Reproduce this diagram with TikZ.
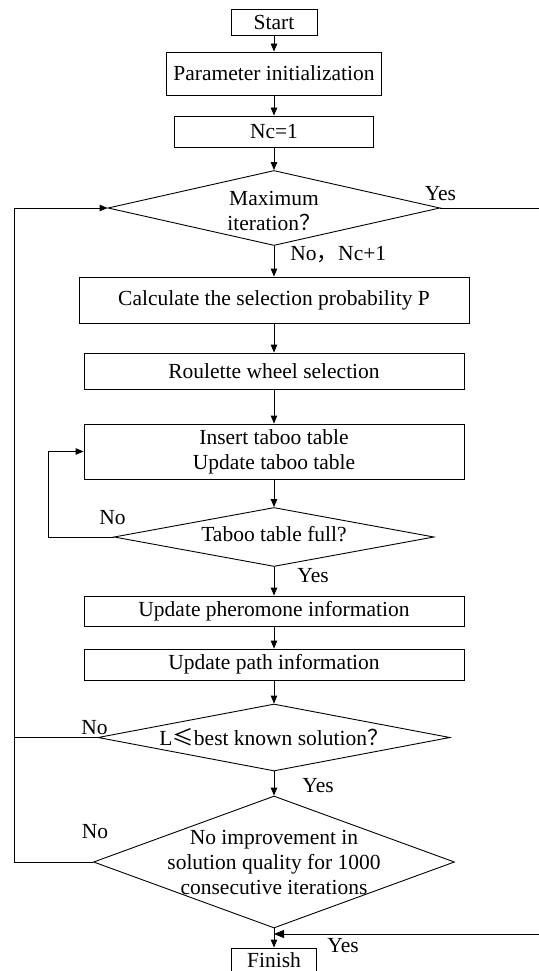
\documentclass[tikz,border=0pt]{standalone}
\usepackage{fontspec}
\setmainfont{Liberation Serif}
\newfontfamily\cjk{Noto Sans CJK SC}
\usetikzlibrary{shapes.geometric,arrows.meta}

\begin{document}
\begin{tikzpicture}[x=1pt,y=-1pt,line width=0.9pt,
    font=\fontsize{21.5}{25}\selectfont,
    box/.style={draw,rectangle,inner sep=0pt,align=center},
    decide/.style={draw,diamond,inner sep=0pt},
    lbl/.style={inner sep=0pt},
    arr/.style={-{Triangle[length=8pt,width=6.5pt]}}]
      \useasboundingbox (0,0) rectangle (538,971);
      % main column
      \node[box,minimum width=86,minimum height=26] (start) at (274,22) {Start};
      \node[box,minimum width=215,minimum height=43] (init) at (274,73.5) {Parameter initialization};
      \node[box,minimum width=199,minimum height=31] (nc) at (274,131.5) {Nc=1};
      \node[decide,minimum width=332,minimum height=75] (d1) at (274,208) {};
      \node[align=center] (d1txt) at (274,211) {Maximum\\iteration{\cjk ？}};
      \node[box,minimum width=390,minimum height=46] (calc) at (274,300) {Calculate the selection probability P};
      \node[box,minimum width=380,minimum height=36] (roul) at (274,371) {Roulette wheel selection};
      \node[box,minimum width=380,minimum height=55] (taboo) at (274,451.5) {Insert taboo table\\Update taboo table};
      \node[decide,minimum width=320,minimum height=59] (d2) at (274,537) {};
      \node (d2txt) at (274,534) {Taboo table full?};
      \node[box,minimum width=380,minimum height=30] (pher) at (274,611) {Update pheromone information};
      \node[box,minimum width=380,minimum height=31] (path) at (274,664.5) {Update path information};
      \node[decide,minimum width=352,minimum height=67] (d3) at (274,737.5) {};
      \node (d3txt) at (274,737) {L{\cjk ≤}best known solution{\cjk ？}};
      \node[decide,minimum width=361,minimum height=132] (d4) at (274,862) {};
      \node[align=center] (d4txt) at (274,862) {No improvement in\\solution quality for 1000\\consecutive iterations};
      \node[box,minimum width=85,minimum height=30,text depth=6pt] (finish) at (274,963) {Finish};
      \coordinate (lbot) at (14,862);
      \coordinate (tl) at (48,537);
      \coordinate (rgt) at (541,208);
      \coordinate (jn) at (274,934);
      % connectors
      \draw[arr] (start) -- (init);
      \draw[arr] (init) -- (nc);
      \draw[arr] (nc) -- (d1);
      \draw[arr] (d1) -- (calc);
      \draw[arr] (calc) -- (roul);
      \draw[arr] (roul) -- (taboo);
      \draw[arr] (taboo) -- (d2);
      \draw[arr] (d2) -- (pher);
      \draw[arr] (pher) -- (path);
      \draw[arr] (path) -- (d3);
      \draw[arr] (d3) -- (d4);
      \draw[arr] (d4) -- (finish);
      \draw[arr] (d2.west) -- (tl) |- (taboo.west);
      \draw[arr] (d4.west) -- (lbot) |- (d1.west);
      \draw (d3.west) -- (d3.west -| lbot);
      \draw[-{Triangle[length=10pt,width=8pt]}] (d1.east) -- (rgt) |- (jn);
      % labels
      \node[lbl,anchor=south] at ([yshift=7pt]d1.east) {Yes};
      \node[lbl,anchor=north west] at ([xshift=16pt]d1.south) {No{\cjk ，}Nc+1};
      \node[lbl,anchor=south] at ([xshift=-1pt,yshift=12pt]d2.west) {No};
      \node[lbl,anchor=north west] at ([xshift=23pt,yshift=-1pt]d2.south) {Yes};
      \node[lbl,anchor=south] at ([xshift=-3pt,yshift=2pt]d3.west) {No};
      \node[lbl,anchor=north west] at ([xshift=28pt,yshift=-7pt]d3.south) {Yes};
      \node[lbl,anchor=south] at ([xshift=2pt,yshift=23pt]d4.west) {No};
      \node[lbl,anchor=north west] at ([xshift=53pt,yshift=-4pt]jn) {Yes};
    \end{tikzpicture}
\end{document}
